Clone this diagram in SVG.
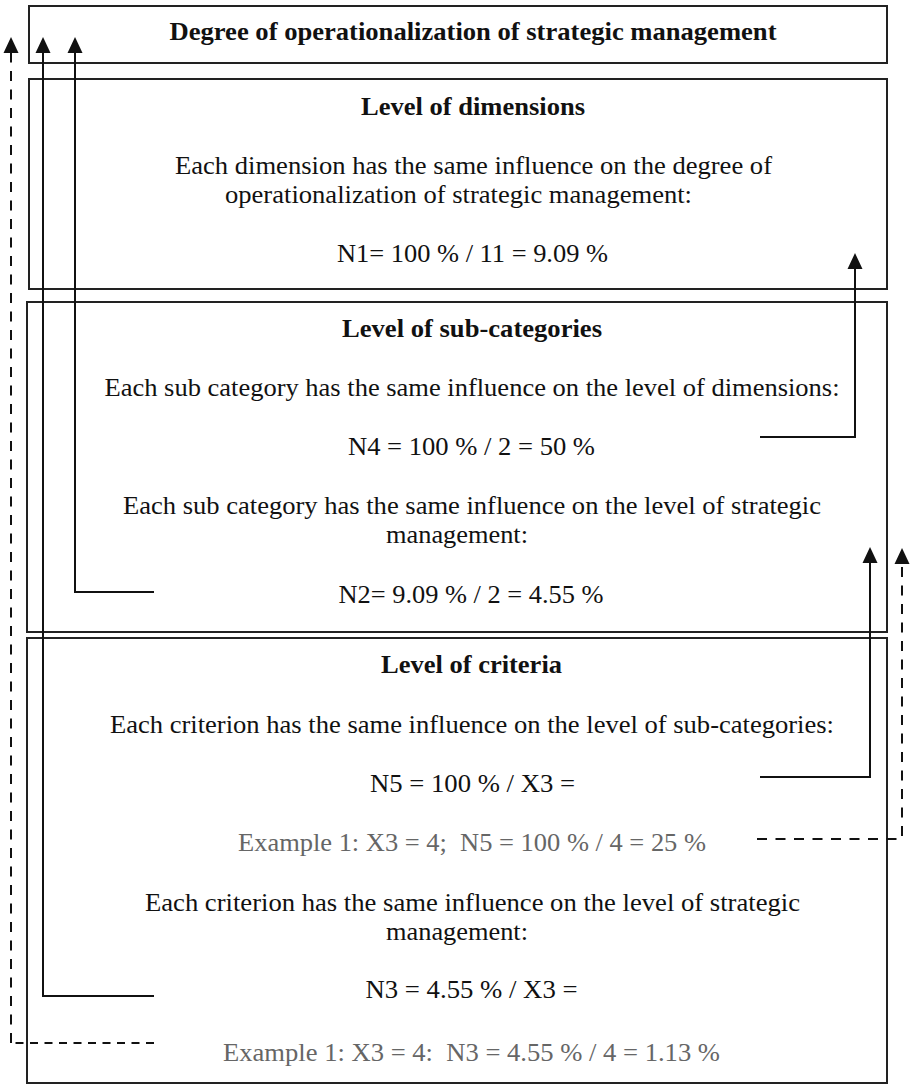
<svg xmlns="http://www.w3.org/2000/svg" width="910" height="1084" viewBox="0 0 910 1084">
  <style>
    .box { fill: #fff; stroke: #222; stroke-width: 2; }
    .t { font-family: "Liberation Serif", "Times New Roman", serif; font-size: 25px; fill: #111; text-anchor: middle; }
    .h { font-weight: bold; }
    .ex { fill: #666; }
    .ln { fill: none; stroke: #111; stroke-width: 2; }
    .dash { stroke-dasharray: 10 8.5; }
    .dash-s { stroke-dasharray: 8 6.5; }
  </style>
  <defs>
    <marker id="arrow" viewBox="0 0 16 16" refX="0" refY="8" markerWidth="16" markerHeight="16" markerUnits="userSpaceOnUse" orient="auto">
      <path d="M0,0.5 L16,8 L0,15.5 z" fill="#111"/>
    </marker>
  </defs>

  <rect width="910" height="1084" fill="#fff"/>

  <!-- top level -->
  <g id="node-degree">
    <rect class="box" x="29" y="6" width="858" height="57"/>
    <text class="t h" x="473" y="40" textLength="607" lengthAdjust="spacingAndGlyphs">Degree of operationalization of strategic management</text>
  </g>

  <!-- dimensions -->
  <g id="node-dimensions">
    <rect class="box" x="29" y="79" width="858" height="210"/>
    <text class="t h" x="473" y="115" textLength="224" lengthAdjust="spacingAndGlyphs">Level of dimensions</text>
    <text class="t" x="473.5" y="174" textLength="597" lengthAdjust="spacingAndGlyphs">Each dimension has the same influence on the degree of</text>
    <text class="t" x="458.5" y="203" textLength="467" lengthAdjust="spacingAndGlyphs">operationalization of strategic management:</text>
    <text class="t" x="472.5" y="262" textLength="271" lengthAdjust="spacingAndGlyphs">N1= 100 % / 11 = 9.09 %</text>
  </g>

  <!-- sub-categories -->
  <g id="node-subcategories">
    <rect class="box" x="27" y="302" width="860" height="330"/>
    <text class="t h" x="472" y="337" textLength="260" lengthAdjust="spacingAndGlyphs">Level of sub-categories</text>
    <text class="t" x="472" y="396" textLength="735" lengthAdjust="spacingAndGlyphs">Each sub category has the same influence on the level of dimensions:</text>
    <text class="t" x="471.5" y="455" textLength="247" lengthAdjust="spacingAndGlyphs">N4 = 100 % / 2 = 50 %</text>
    <text class="t" x="472" y="514" textLength="698" lengthAdjust="spacingAndGlyphs">Each sub category has the same influence on the level of strategic</text>
    <text class="t" x="457" y="543" textLength="142" lengthAdjust="spacingAndGlyphs">management:</text>
    <text class="t" x="471" y="603" textLength="265" lengthAdjust="spacingAndGlyphs">N2= 9.09 % / 2 = 4.55 %</text>
  </g>

  <!-- criteria -->
  <g id="node-criteria">
    <rect class="box" x="27" y="638" width="860" height="445"/>
    <text class="t h" x="471.5" y="673" textLength="181" lengthAdjust="spacingAndGlyphs">Level of criteria</text>
    <text class="t" x="472" y="733" textLength="724" lengthAdjust="spacingAndGlyphs">Each criterion has the same influence on the level of sub-categories:</text>
    <text class="t" x="472.5" y="792" textLength="205" lengthAdjust="spacingAndGlyphs">N5 = 100 % / X3 =</text>
    <text class="t ex" x="472" y="851" textLength="468" lengthAdjust="spacingAndGlyphs" xml:space="preserve">Example 1: X3 = 4;  N5 = 100 % / 4 = 25 %</text>
    <text class="t" x="472.5" y="911" textLength="655" lengthAdjust="spacingAndGlyphs">Each criterion has the same influence on the level of strategic</text>
    <text class="t" x="457" y="940" textLength="142" lengthAdjust="spacingAndGlyphs">management:</text>
    <text class="t" x="471.5" y="998" textLength="212" lengthAdjust="spacingAndGlyphs">N3 = 4.55 % / X3 =</text>
    <text class="t ex" x="471.5" y="1061" textLength="497" lengthAdjust="spacingAndGlyphs" xml:space="preserve">Example 1: X3 = 4:  N3 = 4.55 % / 4 = 1.13 %</text>
  </g>

  <!-- connectors -->
  <g id="connectors">
    <line class="ln dash-s" x1="154" y1="1043" x2="11" y2="1043"/>
    <line class="ln dash" x1="11" y1="1043" x2="11" y2="53" marker-end="url(#arrow)"/>
    <polyline class="ln" points="154,996 43,996 43,53" marker-end="url(#arrow)"/>
    <polyline class="ln" points="154,592 75,592 75,53" marker-end="url(#arrow)"/>
    <polyline class="ln" points="760,437 855,437 855,269" marker-end="url(#arrow)"/>
    <polyline class="ln" points="760,777 870,777 870,563" marker-end="url(#arrow)"/>
    <polyline class="ln dash" points="757,839 902,839 902,564" marker-end="url(#arrow)"/>
  </g>
</svg>
